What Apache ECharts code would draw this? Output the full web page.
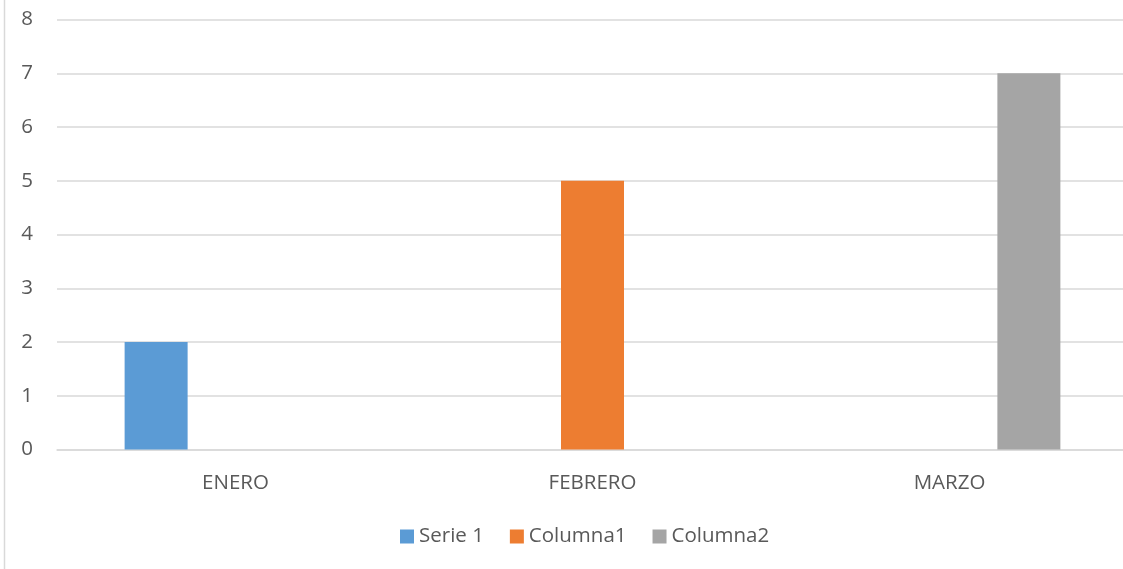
<!DOCTYPE html>
<html>
<head>
<meta charset="utf-8">
<script src="https://cdn.jsdelivr.net/npm/echarts@6/dist/echarts.min.js"></script>
<style>
html,body{margin:0;padding:0;background:#fff;overflow:hidden;width:1123px;height:569px;}
#chart{width:1128px;height:569px;}
</style>
</head>
<body>
<div id="chart"></div>
<script>
const categories = ['ENERO', 'FEBRERO', 'MARZO'];
const serie1 = [2, null, null];
const columna1 = [null, 5, null];
const columna2 = [null, null, 7];
const seriesNames = ['Serie 1', 'Columna1', 'Columna2'];
const yTicks = [0, 1, 2, 3, 4, 5, 6, 7, 8];

const FONT = 'Open Sans';
const TXT = '#595959';
const FS = 20.5;
const chart = echarts.init(document.getElementById('chart'), null, {renderer: 'canvas'});
chart.setOption({
  animation: false,
  backgroundColor: '#fff',
  color: ['#5B9BD5', '#ED7D31', '#A5A5A5'],
  graphic: [{
    type: 'line', shape: {x1: 4.5, y1: -2, x2: 4.5, y2: 571},
    style: {stroke: '#D9D9D9', lineWidth: 1.5}, silent: true
  }],
  grid: {left: 57, right: 0, top: 19.5, bottom: 119.5, containLabel: false},
  legend: {
    data: seriesNames, left: 395, top: 521,
    itemWidth: 14, itemHeight: 14, itemGap: 26, icon: 'rect',
    textStyle: {fontFamily: FONT, fontSize: FS, color: TXT}
  },
  xAxis: {
    type: 'category', data: categories,
    axisLine: {show: true, lineStyle: {color: '#D9D9D9', width: 1.5}},
    axisTick: {show: false},
    axisLabel: {fontFamily: FONT, fontSize: FS, color: TXT, margin: 23}
  },
  yAxis: {
    type: 'value', min: yTicks[0], max: yTicks[yTicks.length - 1], interval: 1,
    axisLine: {show: false}, axisTick: {show: false},
    splitLine: {lineStyle: {color: '#D9D9D9', width: 1.5}},
    axisLabel: {fontFamily: FONT, fontSize: FS, color: TXT, margin: 24}
  },
  series: [
    {name: seriesNames[0], type: 'bar', data: serie1, barWidth: 63, barGap: '26%'},
    {name: seriesNames[1], type: 'bar', data: columna1, barWidth: 63, barGap: '26%'},
    {name: seriesNames[2], type: 'bar', data: columna2, barWidth: 63, barGap: '26%'}
  ]
});
</script>
</body>
</html>
